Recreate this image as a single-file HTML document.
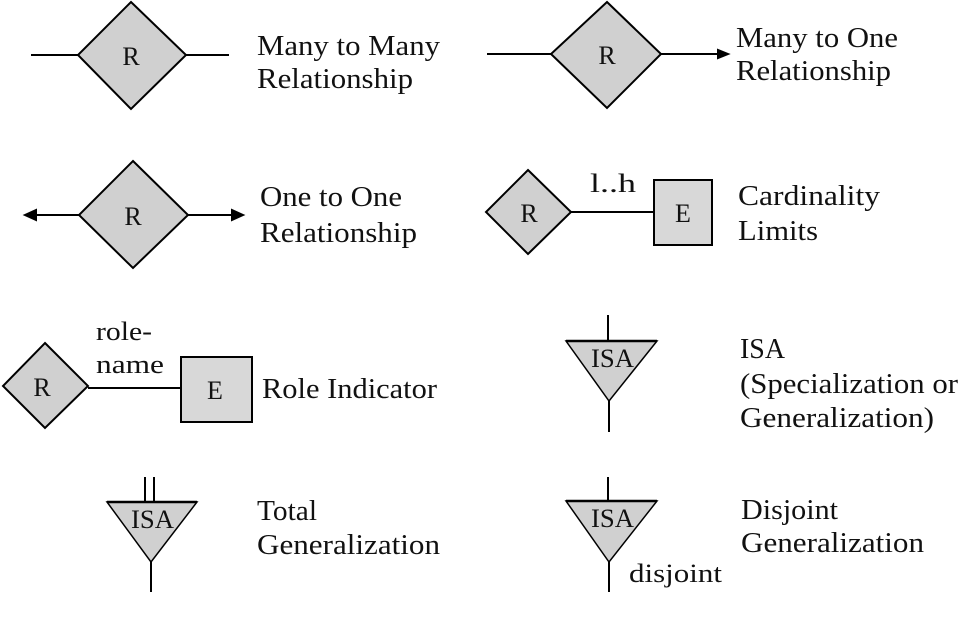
<!DOCTYPE html>
<html><head><meta charset="utf-8"><style>
html,body{margin:0;padding:0;background:#fff;}
svg text{font-family:"Liberation Serif",serif;fill:#111;}
</style></head><body>
<svg width="970" height="620" viewBox="0 0 970 620" xmlns="http://www.w3.org/2000/svg">
<g stroke="#000" stroke-width="2" fill="#d0d0d0">
<line x1="31" y1="55" x2="78" y2="55"/><line x1="186" y1="55" x2="229" y2="55"/>
<polygon points="131,2 186,55 131,109 78,55"/>
<line x1="487" y1="54" x2="551" y2="54"/><line x1="661" y1="54" x2="722" y2="54"/>
<polygon points="728,54 718,50 718,58" fill="#000"/>
<polygon points="607,2 661,54 607,108 551,54"/>
<line x1="31" y1="215" x2="79" y2="215"/><line x1="188" y1="215" x2="237" y2="215"/>
<polygon points="25,215 36,210 36,220" fill="#000"/>
<polygon points="243,215 232,210 232,220" fill="#000"/>
<polygon points="133,161 188,215 133,268 79,215"/>
<line x1="571" y1="212" x2="654" y2="212"/>
<polygon points="528,170 571,212 528,254 486,212"/>
<rect x="654" y="180" width="58" height="65" fill="#d8d8d8"/>
<line x1="88" y1="388" x2="181" y2="388"/>
<polygon points="45,343 88,386 45,428 3,386"/>
<rect x="181" y="357" width="71" height="65" fill="#d8d8d8"/>
<line x1="608" y1="315" x2="608" y2="341"/><line x1="609" y1="401" x2="609" y2="432"/>
<polygon points="566,341 657,341 609,401" stroke-width="1.5"/>
<line x1="566" y1="341" x2="657" y2="341" stroke-width="2.5"/>
<line x1="608" y1="477" x2="608" y2="501"/><line x1="609" y1="562" x2="609" y2="592"/>
<polygon points="566,501 657,501 609,562" stroke-width="1.5"/>
<line x1="566" y1="501" x2="657" y2="501" stroke-width="2.5"/>
<line x1="145" y1="477" x2="145" y2="502"/><line x1="154" y1="477" x2="154" y2="502"/>
<line x1="151" y1="562" x2="151" y2="592"/>
<polygon points="107,502 197,502 151,562" stroke-width="1.5"/>
<line x1="107" y1="502" x2="197" y2="502" stroke-width="2.5"/>
</g>
<g font-size="26">
<text x="131" y="65" text-anchor="middle">R</text>
<text x="607" y="64" text-anchor="middle">R</text>
<text x="133" y="225" text-anchor="middle">R</text>
<text x="529" y="222" text-anchor="middle">R</text>
<text x="683" y="222" text-anchor="middle">E</text>
<text x="42" y="396" text-anchor="middle">R</text>
<text x="215" y="399" text-anchor="middle">E</text>
<text x="591" y="367" textLength="43" lengthAdjust="spacingAndGlyphs">ISA</text>
<text x="591" y="527" textLength="43" lengthAdjust="spacingAndGlyphs">ISA</text>
<text x="131" y="528" textLength="43" lengthAdjust="spacingAndGlyphs">ISA</text>
<text x="590" y="192" textLength="46" lengthAdjust="spacingAndGlyphs">l..h</text>
<text x="96" y="340" textLength="56" lengthAdjust="spacingAndGlyphs">role-</text>
<text x="96" y="373" textLength="68" lengthAdjust="spacingAndGlyphs">name</text>
<text x="629" y="582" textLength="93" lengthAdjust="spacingAndGlyphs">disjoint</text>
</g>
<g font-size="28">
<text x="257" y="55" textLength="183" lengthAdjust="spacingAndGlyphs">Many to Many</text>
<text x="257" y="88" textLength="156" lengthAdjust="spacingAndGlyphs">Relationship</text>
<text x="736" y="47" textLength="162" lengthAdjust="spacingAndGlyphs">Many to One</text>
<text x="736" y="80" textLength="155" lengthAdjust="spacingAndGlyphs">Relationship</text>
<text x="260" y="206" textLength="142" lengthAdjust="spacingAndGlyphs">One to One</text>
<text x="260" y="242" textLength="157" lengthAdjust="spacingAndGlyphs">Relationship</text>
<text x="738" y="205" textLength="142" lengthAdjust="spacingAndGlyphs">Cardinality</text>
<text x="738" y="240" textLength="80" lengthAdjust="spacingAndGlyphs">Limits</text>
<text x="262" y="398" textLength="175" lengthAdjust="spacingAndGlyphs">Role Indicator</text>
<text x="740" y="358" textLength="45" lengthAdjust="spacingAndGlyphs">ISA</text>
<text x="740" y="393" textLength="218" lengthAdjust="spacingAndGlyphs">(Specialization or</text>
<text x="740" y="427" textLength="194" lengthAdjust="spacingAndGlyphs">Generalization)</text>
<text x="741" y="519" textLength="97" lengthAdjust="spacingAndGlyphs">Disjoint</text>
<text x="741" y="552" textLength="183" lengthAdjust="spacingAndGlyphs">Generalization</text>
<text x="257" y="520" textLength="60" lengthAdjust="spacingAndGlyphs">Total</text>
<text x="257" y="554" textLength="183" lengthAdjust="spacingAndGlyphs">Generalization</text>
</g>
</svg>
</body></html>
